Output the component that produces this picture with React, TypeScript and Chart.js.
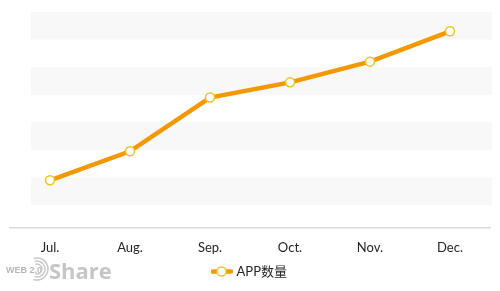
import React, { useEffect, useRef } from "react";
import { Chart, registerables } from "chart.js";

Chart.register(...registerables);

// Monthly totals
const months = ["Jul.", "Aug.", "Sep.", "Oct.", "Nov.", "Dec."];
const appCounts = [190, 295, 490, 545, 620, 730];
const seriesLabel = "APP数量";

// Value axis range and the shaded bands behind the line
const yMin = 17;
const yMax = 800;
const bandRanges: [number, number][] = [
  [100, 200],
  [300, 400],
  [500, 600],
  [700, 800],
];

const LINE_COLOR = "#f39800";
const POINT_BORDER = "#f0c21e";
const TEXT_COLOR = "#262626";
const FONT = "Lato, 'Noto Sans CJK SC', sans-serif";

function makeLegendSymbol(): HTMLCanvasElement {
  const c = document.createElement("canvas");
  c.width = 22;
  c.height = 13;
  const g = c.getContext("2d")!;
  g.strokeStyle = LINE_COLOR;
  g.lineWidth = 4.5;
  g.lineCap = "round";
  g.beginPath();
  g.moveTo(2, 6.5);
  g.lineTo(20, 6.5);
  g.stroke();
  g.beginPath();
  g.arc(11, 6.5, 4.6, 0, Math.PI * 2);
  g.fillStyle = "#ffffff";
  g.fill();
  g.lineWidth = 1.5;
  g.strokeStyle = POINT_BORDER;
  g.stroke();
  return c;
}

const bandPlugin = {
  id: "bands",
  beforeDatasetsDraw(chart: any) {
    const { ctx, chartArea, scales } = chart;
    const y = scales.y;
    ctx.save();
    ctx.fillStyle = "#f8f8f8";
    for (const [lo, hi] of bandRanges) {
      const top = y.getPixelForValue(hi);
      const bottom = y.getPixelForValue(lo);
      ctx.fillRect(chartArea.left + 21, top, chartArea.right - chartArea.left - 19, bottom - top);
    }
    ctx.restore();
  },
};

const watermarkPlugin = {
  id: "watermark",
  afterDraw(chart: any) {
    const { ctx } = chart;
    ctx.save();
    ctx.fillStyle = "#b8b8b8";
    ctx.strokeStyle = "#c8c8c8";
    ctx.textBaseline = "alphabetic";
    ctx.font = "bold 9px 'Liberation Sans', sans-serif";
    ctx.fillText("WEB 2.0", 6, 273);
    ctx.lineWidth = 1.5;
    for (const r of [5, 8, 11]) {
      ctx.beginPath();
      ctx.arc(37, 269, r, -Math.PI * 0.6, Math.PI * 0.6);
      ctx.stroke();
    }
    ctx.fillStyle = "#c6c6c6";
    ctx.font = "bold 22px 'Open Sans', sans-serif";
    ctx.fillText("Share", 49, 279);
    ctx.restore();
  },
};

export default function App() {
  const canvasRef = useRef<HTMLCanvasElement | null>(null);

  useEffect(() => {
    document.body.style.margin = "0";
    const canvas = canvasRef.current;
    if (!canvas) return;
    const symbol = makeLegendSymbol();

    const chart = new Chart(canvas, {
      type: "line",
      data: {
        labels: months,
        datasets: [
          {
            label: seriesLabel,
            data: appCounts,
            borderColor: LINE_COLOR,
            backgroundColor: LINE_COLOR,
            borderWidth: 4.5,
            pointRadius: 4.5,
            pointBackgroundColor: "#ffffff",
            pointBorderColor: POINT_BORDER,
            pointBorderWidth: 1.5,
            tension: 0,
          },
        ],
      },
      options: {
        responsive: false,
        animation: false,
        events: [],
        layout: { padding: { left: 10, right: 10, top: 12, bottom: 3 } },
        scales: {
          x: {
            offset: true,
            grid: { display: false, drawTicks: false },
            border: { display: true, color: "#d9d9d9", width: 1.5 },
            ticks: {
              color: TEXT_COLOR,
              font: { family: FONT, size: 13 },
              padding: 12,
            },
            afterFit: (scale: any) => {
              scale.height = 27;
            },
          },
          y: {
            display: false,
            min: yMin,
            max: yMax,
          },
        },
        plugins: {
          tooltip: { enabled: false },
          legend: {
            position: "bottom",
            labels: {
              usePointStyle: true,
              pointStyleWidth: 17,
              padding: 10,
              color: TEXT_COLOR,
              font: { family: FONT, size: 13 },
              generateLabels: (c: any) =>
                c.data.datasets.map((ds: any, i: number) => ({
                  text: ds.label,
                  pointStyle: symbol,
                  fillStyle: LINE_COLOR,
                  strokeStyle: LINE_COLOR,
                  lineWidth: 0,
                  hidden: false,
                  datasetIndex: i,
                  fontColor: TEXT_COLOR,
                })),
            },
          },
        },
      },
      plugins: [bandPlugin, watermarkPlugin],
    });

    return () => chart.destroy();
  }, []);

  return <canvas ref={canvasRef} width={500} height={291} style={{ display: "block" }} />;
}
